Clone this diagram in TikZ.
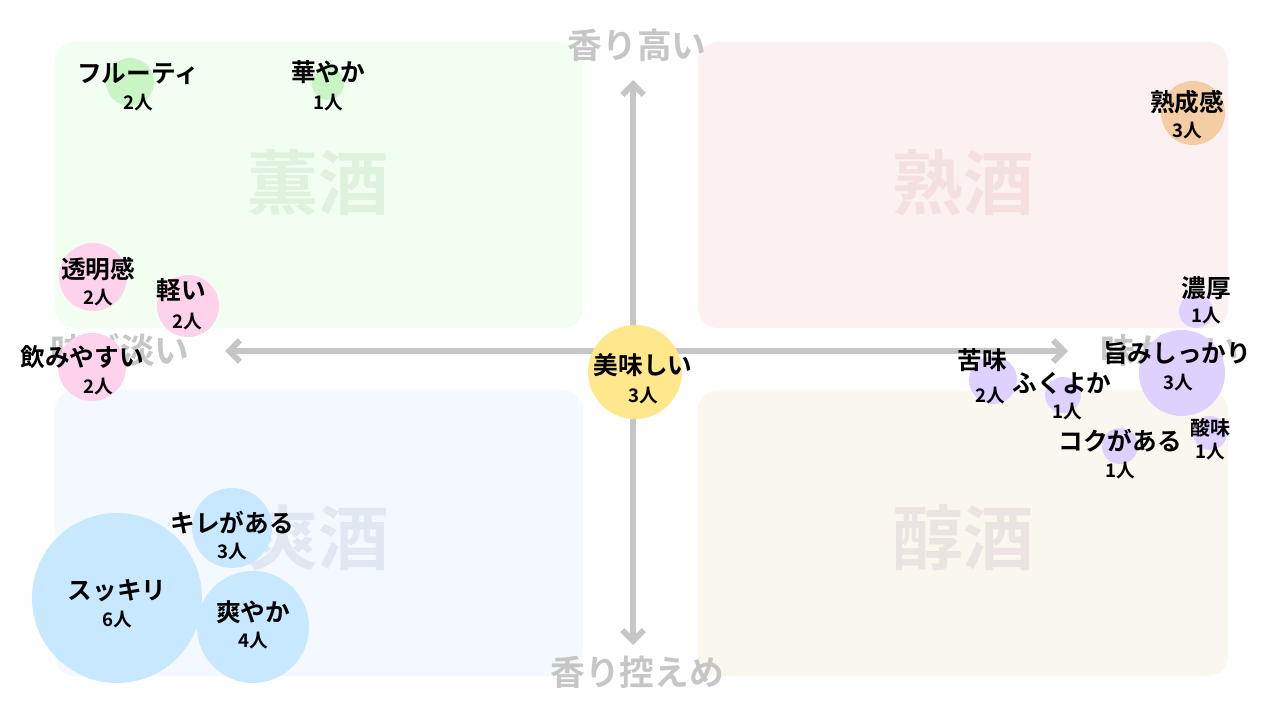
\documentclass[tikz,border=0pt]{standalone}
\usepackage{fontspec}
\setmainfont{Noto Sans CJK JP}[BoldFont={* Bold}]
\usetikzlibrary{arrows.meta}
\definecolor{axisgray}{HTML}{C6C6C6}
\definecolor{qg}{RGB}{243,254,243}
\definecolor{qp}{RGB}{252,241,241}
\definecolor{qb}{RGB}{244,249,255}
\definecolor{qy}{RGB}{250,248,238}
\definecolor{wg}{RGB}{222,242,222}
\definecolor{wp}{RGB}{245,224,224}
\definecolor{wb}{RGB}{225,232,242}
\definecolor{wy}{RGB}{236,228,226}
\definecolor{bg}{RGB}{200,245,195}
\definecolor{bo}{RGB}{245,205,165}
\definecolor{bpk}{RGB}{255,210,235}
\definecolor{byl}{RGB}{255,232,140}
\definecolor{bpu}{RGB}{222,208,255}
\definecolor{bbl}{RGB}{200,232,255}
\begin{document}
\begin{tikzpicture}[x=0.75pt,y=-0.75pt,
  quad/.style={rounded corners=15pt,draw=none},
  wm/.style={font=\fontsize{53}{53}\selectfont\bfseries},
  axlab/.style={font=\fontsize{26}{26}\selectfont\bfseries,text=axisgray},
  lab/.style={font=\fontsize{18.5}{18.5}\selectfont\bfseries},
  cnt/.style={font=\fontsize{14}{14}\selectfont\bfseries},
  ax/.style={draw=axisgray,line width=4.5pt,line cap=round,-{Straight Barb[length=8pt,width=16pt,line width=4.5pt]}}]
\useasboundingbox (0,0) rectangle (1280,720);
\fill[white] (0,0) rectangle (1280,720);
\fill[quad,fill=qg] (55,42) rectangle (583,328);
\fill[quad,fill=qp] (698,42) rectangle (1228,328);
\fill[quad,fill=qb] (55,390) rectangle (583,676);
\fill[quad,fill=qy] (698,390) rectangle (1228,676);
\node[wm,text=wg] (w1) at (318,183) {薫酒};
\node[wm,text=wp] (w2) at (963,183) {熟酒};
\node[wm,text=wb] (w3) at (318,538) {爽酒};
\node[wm,text=wy] (w4) at (963,538) {醇酒};
\coordinate (c) at (633,351);
\coordinate (top) at (633,80);
\coordinate (bot) at (633,645);
\coordinate (lft) at (225,351);
\coordinate (rgt) at (1068,351);
\draw[ax] (c) -- (top);
\draw[ax] (c) -- (bot);
\draw[ax] (c) -- (lft);
\draw[ax] (c) -- (rgt);
\node[axlab] (a1) at (637,45) {香り高い};
\node[axlab] (a2) at (637,672) {香り控えめ};
\node[axlab] (a3) at (120,350) {味が淡い};
\node[axlab] (a4) at (1170,350) {味が濃い};
\fill[bg] (130,82) circle (24);
\fill[bg] (328,84) circle (16);
\fill[bo] (1193,113) circle (32);
\fill[bpk] (93,277) circle (34);
\fill[bpk] (188,306) circle (31);
\fill[bpk] (92,367) circle (34);
\fill[byl] (635,372) circle (47);
\fill[bpu] (993,380) circle (24);
\fill[bpu] (1063,395) circle (18);
\fill[bpu] (1182,373) circle (43);
\fill[bpu] (1196,311) circle (17);
\fill[bpu] (1210,433) circle (17);
\fill[bpu] (1120,446) circle (18);
\fill[bbl] (232,528) circle (40);
\fill[bbl] (117,598) circle (85);
\fill[bbl] (253,627) circle (56);
\node[lab] (l1) at (138,74) {フルーティ}; \node[cnt] (n1) at (138,103) {2人};
\node[lab] (l2) at (328,72) {華やか}; \node[cnt] (n2) at (328,103) {1人};
\node[lab] (l3) at (1187,102) {熟成感}; \node[cnt] (n3) at (1187,131) {3人};
\node[lab] (l4) at (98,269) {透明感}; \node[cnt] (n4) at (98,298) {2人};
\node[lab] (l5) at (181,290) {軽い}; \node[cnt] (n5) at (187,322) {2人};
\node[lab] (l6) at (82,357) {飲みやすい}; \node[cnt] (n6) at (98,387) {2人};
\node[lab] (l7) at (643,365) {美味しい}; \node[cnt] (n7) at (643,396) {3人};
\node[lab] (l8) at (982,360) {苦味}; \node[cnt] (n8) at (990,396) {2人};
\node[lab] (l9) at (1062,383) {ふくよか}; \node[cnt] (n9) at (1067,412) {1人};
\node[lab] (l10) at (1177,353) {旨みしっかり}; \node[cnt] (n10) at (1178,383) {3人};
\node[lab] (l11) at (1206,288) {濃厚}; \node[cnt] (n11) at (1206,316) {1人};
\node[lab,font=\fontsize{15}{15}\selectfont\bfseries] (l12) at (1210,428) {酸味}; \node[cnt] (n12) at (1210,452) {1人};
\node[lab] (l13) at (1120,441) {コクがある}; \node[cnt] (n13) at (1120,471) {1人};
\node[lab] (l14) at (232,523) {キレがある}; \node[cnt] (n14) at (232,552) {3人};
\node[lab] (l15) at (117,591) {スッキリ}; \node[cnt] (n15) at (117,620) {6人};
\node[lab] (l16) at (253,612) {爽やか}; \node[cnt] (n16) at (253,641) {4人};
\end{tikzpicture}
\end{document}
